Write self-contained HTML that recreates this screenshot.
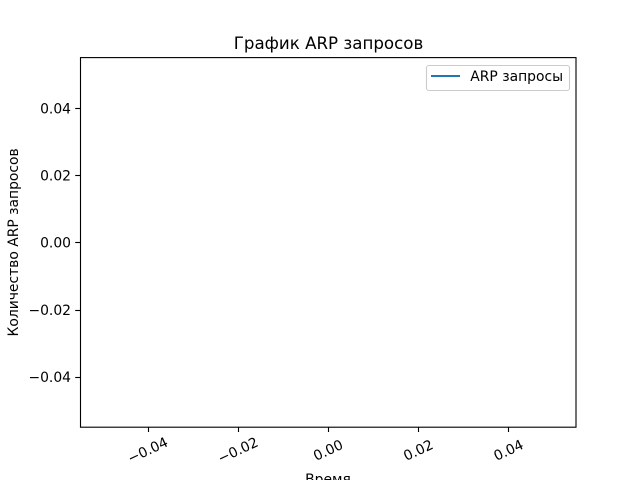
<!DOCTYPE html>
<html>
<head>
<meta charset="utf-8">
<title>График ARP запросов</title>
<style>
html,body{margin:0;padding:0;background:#fff;width:640px;height:480px;overflow:hidden}
svg{display:block}
text{font-family:"DejaVu Sans","Liberation Sans",sans-serif;fill:#000}
</style>
</head>
<body>
<svg id="chart" xmlns="http://www.w3.org/2000/svg" width="640" height="480" viewBox="0 0 640 480">
<rect x="0" y="0" width="640" height="480" fill="#fff"/>
<rect x="80" y="57.6" width="496" height="369.6" fill="#fff"/>
<g id="ticks"></g>
<path id="series-line" d="" fill="none" stroke="#1f77b4" stroke-width="2.08"/>
<rect x="80.5" y="57.6" width="495.5" height="369.6" fill="none" stroke="#000" stroke-width="1.11"/>
<text x="328.5" y="49" font-size="16.67" text-anchor="middle">График ARP запросов</text>
<text x="328" y="484" font-size="13.89" text-anchor="middle">Время</text>
<text transform="translate(18 242.4) rotate(-90)" font-size="13.89" text-anchor="middle">Количество ARP запросов</text>
<g>
<rect x="426.5" y="65.5" width="143" height="25" rx="2.5" ry="2.5" fill="#fff" fill-opacity="0.8" stroke="#ccc" stroke-width="1.11"/>
<line x1="431" y1="76" x2="460" y2="76" stroke="#1f77b4" stroke-width="2.08"/>
<text x="470.3" y="81" font-size="13.89">ARP запросы</text>
</g>
</svg>
<script>
const xTicks = [-0.04, -0.02, 0, 0.02, 0.04];
const yTicks = [-0.04, -0.02, 0, 0.02, 0.04];
const xTickLabels = ['\u22120.04', '\u22120.02', '0.00', '0.02', '0.04'];
const yTickLabels = ['\u22120.04', '\u22120.02', '0.00', '0.02', '0.04'];
const timeValues = [];
const arpCounts = [];

const NS = 'http://www.w3.org/2000/svg';
const xScale = function (v) { return 328 + (v / 0.055) * 248; };
const yScale = function (v) { return 242.4 - (v / 0.055) * 184.8; };
const ticksGroup = document.getElementById('ticks');

xTicks.forEach(function (v, i) {
  const px = Math.round(xScale(v)) + 0.5;
  const mark = document.createElementNS(NS, 'line');
  
  
  mark.setAttribute('x1', px);
  mark.setAttribute('x2', px);
  mark.setAttribute('y1', 427.2);
  mark.setAttribute('y2', 432);
  mark.setAttribute('stroke', '#000');
  mark.setAttribute('stroke-width', '1.11');
  ticksGroup.appendChild(mark);
  const label = document.createElementNS(NS, 'text');
  
  
  label.setAttribute('font-size', '13.89');
  label.setAttribute('text-anchor', 'middle');
  label.setAttribute('transform', 'translate(' + xScale(v) + ' 450) rotate(-25) translate(0 5)');
  label.textContent = xTickLabels[i];
  ticksGroup.appendChild(label);
});

yTicks.forEach(function (v, i) {
  const py = Math.round(yScale(v)) + 0.5;
  const mark = document.createElementNS(NS, 'line');
  
  
  mark.setAttribute('x1', 75.2);
  mark.setAttribute('x2', 80);
  mark.setAttribute('y1', py);
  mark.setAttribute('y2', py);
  mark.setAttribute('stroke', '#000');
  mark.setAttribute('stroke-width', '1.11');
  ticksGroup.appendChild(mark);
  const label = document.createElementNS(NS, 'text');
  
  
  label.setAttribute('font-size', '13.89');
  label.setAttribute('text-anchor', 'end');
  label.setAttribute('x', 71);
  label.setAttribute('y', yScale(v) + 5.3);
  label.textContent = yTickLabels[i];
  ticksGroup.appendChild(label);
});

document.getElementById('series-line').setAttribute('d', timeValues.map(function (t, i) {
  return (i ? 'L' : 'M') + xScale(t) + ' ' + yScale(arpCounts[i]);
}).join(' '));
</script>
</body>
</html>
